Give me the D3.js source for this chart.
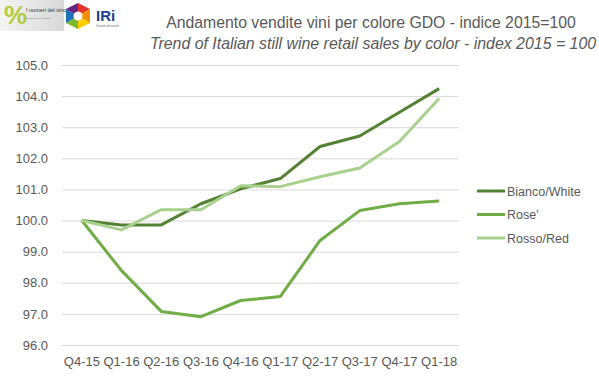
<!DOCTYPE html>
<html>
<head>
<meta charset="utf-8">
<script src="https://cdn.jsdelivr.net/npm/d3@7"></script>
<style>
  body { margin: 0; background: #fff; }
  svg { display: block; font-family: "Liberation Sans", Arial, sans-serif; }
</style>
</head>
<body>
<svg id="chart" width="599" height="378"></svg>
<script>
// data
var quarters = ["Q4-15","Q1-16","Q2-16","Q3-16","Q4-16","Q1-17","Q2-17","Q3-17","Q4-17","Q1-18"];
var bianco = [100.0, 99.86, 99.86, 100.54, 101.02, 101.35, 102.38, 102.72, 103.48, 104.24];
var rose   = [100.0, 98.39, 97.08, 96.91, 97.43, 97.56, 99.36, 100.32, 100.54, 100.63];
var rosso  = [100.0, 99.70, 100.35, 100.35, 101.12, 101.09, 101.41, 101.69, 102.54, 103.92];
var yTicks = [96,97,98,99,100,101,102,103,104,105];

var seriesNames = ["Bianco/White","Rose'","Rosso/Red"];
var seriesColors = ["#548235","#70AD47","#A9D18E"];
var seriesValues = [bianco, rose, rosso];

var svg = d3.select('#chart');
var margins = {top: 65, left: 62, right: 140, bottom: 33};
var width = 599 - margins.left - margins.right;
var height = 378 - margins.top - margins.bottom;

var x = d3.scaleBand().domain(quarters).range([margins.left, margins.left + width]);
var y = d3.scaleLinear().domain([96, 105]).range([margins.top + height, margins.top]);

// logos (rough)
var logo = svg.append('g');
var grad = svg.append('defs').append('linearGradient').attr('id','lg');
grad.append('stop').attr('offset','0%').attr('stop-color','#f4f4f4');
grad.append('stop').attr('offset','100%').attr('stop-color','#d8d8d8');
logo.append('rect').attr('x',0).attr('y',0).attr('width',64).attr('height',31).attr('fill','url(#lg)');
logo.append('text').attr('x',4).attr('y',24).attr('font-size',26).attr('font-weight','bold')
  .attr('fill','#b5cc3a').text('%');
logo.append('text').attr('x',26).attr('y',12).attr('font-size',5.5).attr('fill','#333').text('I numeri del vino');
logo.append('text').attr('x',26).attr('y',19).attr('font-size',2.5).attr('fill','#777').text('statistiche vino italiano');
var hex = [[78,3],[90,9],[90,23],[78,29],[66,23],[66,9]];
var hexColors = ["#e5342b","#f39200","#ffcc00","#7ab929","#1d71b8","#662483"];
hexColors.forEach(function(c, i){
  var a = hex[i], b = hex[(i+1)%6];
  logo.append('path').attr('d','M78,16L'+a[0]+','+a[1]+'L'+b[0]+','+b[1]+'Z').attr('fill',c);
});
logo.append('circle').attr('cx',78).attr('cy',16).attr('r',4.5).attr('fill','#fff');
logo.append('text').attr('x',96).attr('y',21).attr('font-size',15).attr('font-weight','bold')
  .attr('fill','#1d3f8f').text('IRi');
logo.append('text').attr('x',96).attr('y',27).attr('font-size',3).attr('fill','#777').text('Growth delivered');

// titles
svg.append('text').attr('x',371).attr('y',28).attr('text-anchor','middle')
  .attr('font-size',15.8).attr('fill','#595959')
  .text('Andamento vendite vini per colore GDO - indice 2015=100');
svg.append('text').attr('x',373).attr('y',49).attr('text-anchor','middle')
  .attr('font-size',15.9).attr('font-style','italic').attr('fill','#595959')
  .text('Trend of Italian still wine retail sales by color - index 2015 = 100');

// grid + y labels
var yAxis = d3.axisLeft(y).tickValues(yTicks).tickSize(-width).tickPadding(14)
  .tickFormat(d3.format('.1f'));
var gy = svg.append('g').attr('transform','translate(' + margins.left + ',0)').call(yAxis);
gy.select('.domain').remove();
gy.selectAll('line').attr('stroke','#d9d9d9');
gy.selectAll('text').attr('font-size',13).attr('fill','#595959')
  .attr('font-family','"Liberation Sans", Arial, sans-serif');

// x labels
var xAxis = d3.axisBottom(x).tickSize(0).tickPadding(12);
var gx = svg.append('g').attr('transform','translate(0,' + y(96) + ')').call(xAxis);
gx.select('.domain').remove();
gx.selectAll('text').attr('font-size',13).attr('fill','#595959')
  .attr('font-family','"Liberation Sans", Arial, sans-serif');

// lines, in series order (rosso ends up on top)
var line = d3.line()
  .x(function(d, i){ return x(quarters[i]) + x.bandwidth()/2 })
  .y(function(d){ return y(d) });

seriesValues.forEach(function(vals, k){
  svg.append('path').datum(vals)
    .attr('d', line).attr('fill','none')
    .attr('stroke', seriesColors[k]).attr('stroke-width',3)
    .attr('stroke-linejoin','round');
});

// legend
var legend = svg.append('g');
var ly = d3.scalePoint().domain(seriesNames).range([191, 238]);
seriesNames.forEach(function(n, i){
  legend.append('line').attr('x1',477).attr('x2',505)
    .attr('y1',ly(n)).attr('y2',ly(n))
    .attr('stroke',seriesColors[i]).attr('stroke-width',3);
  legend.append('text').attr('x',507).attr('y',ly(n)+4.5)
    .attr('font-size',12.5).attr('fill','#595959').text(n);
});
</script>
</body>
</html>
